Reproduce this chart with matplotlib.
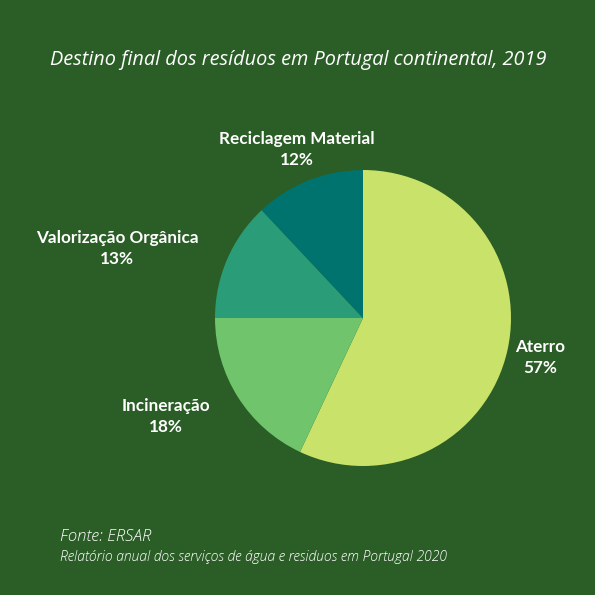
import matplotlib
matplotlib.use("Agg")
import matplotlib.pyplot as plt

categories = ["Aterro", "Incineração", "Valorização Orgânica", "Reciclagem Material"]
values = [57, 18, 13, 12]
colors = ["#c9e26a", "#6fc46c", "#2a9d78", "#00736e"]
bg = "#2a5e26"

W = 595
fig = plt.figure(figsize=(5.95, 5.95), dpi=100, facecolor=bg)

cx, cy, r = 363, 318, 148
ax = fig.add_axes([(cx - r) / W, (W - (cy + r)) / W, 2 * r / W, 2 * r / W])
ax.set_facecolor(bg)
ax.pie(values, colors=colors, startangle=90, counterclock=False,
       wedgeprops=dict(linewidth=0))
ax.set_xlim(-1, 1)
ax.set_ylim(-1, 1)
ax.set_aspect("equal")
ax.axis("off")

def ft(x, y, s, **kw):
    fig.text(x / W, 1 - y / W, s, **kw)

ft(298, 60, "Destino final dos resíduos em Portugal continental, 2019",
   ha="center", va="center", color="white", fontsize=14.3, style="italic",
   family="Open Sans", fontweight="normal")

label_pos = {
    "Aterro": (540, 347),
    "Incineração": (166, 406),
    "Valorização Orgânica": (117, 238),
    "Reciclagem Material": (297, 139),
}
for cat, v in zip(categories, values):
    x, y = label_pos[cat]
    ft(x, y, cat, ha="center", va="center", color="white", fontsize=12.3,
       fontweight="bold", family="Lato")
    ft(x, y + 21, f"{v}%", ha="center", va="center", color="white",
       fontsize=12.3, fontweight="bold", family="Lato")

ft(60, 537, "Fonte: ERSAR", ha="left", va="center", color="white",
   fontsize=12, style="italic", family="Open Sans", fontweight="light")
ft(60, 557, "Relatório anual dos serviços de água e residuos em Portugal 2020",
   ha="left", va="center", color="white", fontsize=10, style="italic",
   family="Open Sans", fontweight="light")

fig.savefig("out.png", dpi=100, facecolor=bg)
